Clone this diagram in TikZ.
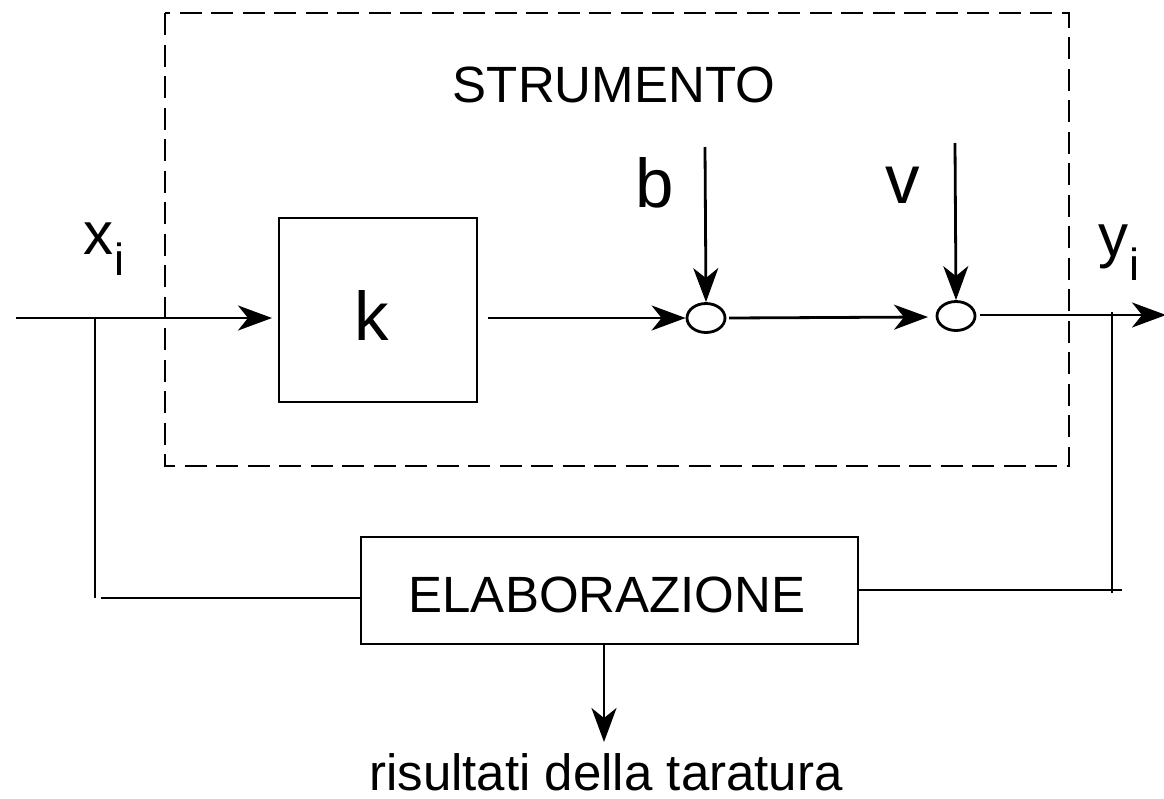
\documentclass[tikz,border=0pt]{standalone}
\usepackage{fontspec}
\setmainfont{Liberation Sans}
\usetikzlibrary{arrows.meta,shapes.geometric}
\begin{document}
\begin{tikzpicture}[x=1pt,y=-1pt,
  line width=2.8pt,
  conn/.style={-{Stealth[length=34pt,width=25pt,inset=10pt]}},
  blockbox/.style={draw,line width=2.6pt,inner sep=0pt},
  sumnode/.style={draw,ellipse,line width=2.8pt,minimum width=38pt,minimum height=29pt,inner sep=0pt},
  lbl/.style={inner sep=0pt,anchor=base,font=\fontsize{51}{56}\selectfont},
  biglbl/.style={inner sep=0pt,anchor=base,font=\fontsize{69}{72}\selectfont},
  sublbl/.style={inner sep=0pt,anchor=base west,font=\fontsize{60}{64}\selectfont}]
\useasboundingbox (0,0) rectangle (1164,798);
% dashed instrument frame
\draw[dash pattern=on 22pt off 9.5pt,line width=2.8pt] (165,13) rectangle (1069,466);
\node[lbl] (strum) at (614,102) {STRUMENTO};
% blocks
\node[blockbox,minimum width=198pt,minimum height=184pt] (k) at (378,310) {};
\node[biglbl] (klbl) at (372,340) {k};
\node[sumnode] (s1) at (706,318) {};
\node[sumnode] (s2) at (956,316) {};
\node[blockbox,minimum width=497pt,minimum height=107pt] (elab) at (609.5,590.5) {};
\node[lbl] (elabl) at (607,612) {ELABORAZIONE};
% coordinates
\coordinate (in) at (16,318);
\coordinate (kin) at (272,318);
\coordinate (kout) at (488,318);
\coordinate (jl) at (95,318);
\coordinate (jlb) at (95,598);
\coordinate (hl) at (101,598);
\coordinate (s1o) at (729,318);
\coordinate (s2i) at (928,317);
\coordinate (s2o) at (980,315);
\coordinate (out) at (1166,315);
\coordinate (jr) at (1112,312);
\coordinate (jrb) at (1112,593);
\coordinate (hr) at (1122,590);
\coordinate (btop) at (705,147);
\coordinate (vtop) at (955,143);
\coordinate (res) at (604,742);
% labels
\node[biglbl] (b) at (655,207) {b};
\node[biglbl] (v) at (903,203) {v};
\node[sublbl] (xi) at (82,254) {x\kern1pt\raisebox{-21pt}{\fontsize{45}{48}\selectfont i}};
\node[sublbl] (yi) at (1097,256) {y\kern1pt\raisebox{-24pt}{\fontsize{45}{48}\selectfont i}};
\node[lbl] (reslbl) at (606,790) {risultati della taratura};
% connectors
\draw[conn] (in) -- (kin);
\draw[conn] (kout) -- (s1.west);
\draw[conn] (s1o) -- (s2i);
\draw[conn] (s2o) -- (out);
\draw[conn] (btop) -- (s1.north);
\draw[conn] (vtop) -- (s2.north);
\draw (jl) -- (jlb);
\draw (hl) -- (elab.west |- hl);
\draw (jr) -- (jrb);
\draw (elab.east |- hr) -- (hr);
\draw[conn] (elab.south -| res) -- (res);
\end{tikzpicture}
\end{document}
